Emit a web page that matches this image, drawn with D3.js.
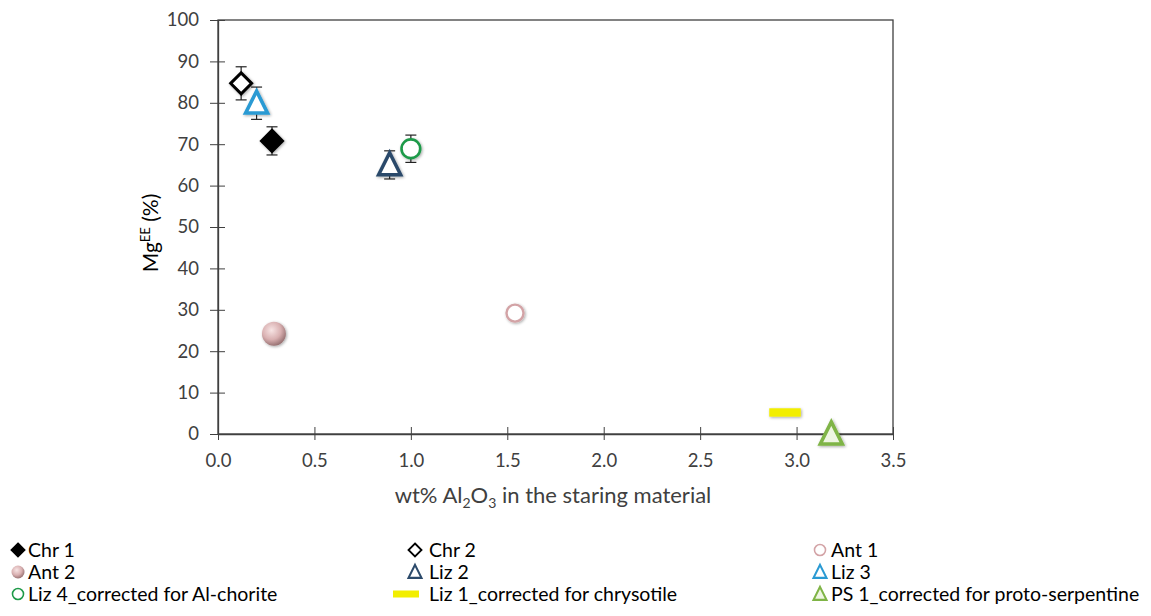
<!DOCTYPE html>
<html><head><meta charset="utf-8">
<script src="https://cdn.jsdelivr.net/npm/d3@7"></script>
<style>body{margin:0;background:#fff}svg{font-family:Lato,"Open Sans",sans-serif}</style>
</head><body>
<svg id="c" width="1151" height="616"></svg>
<script>
// Data
const seriesNames = ["Chr 1","Chr 2","Ant 1","Ant 2","Liz 2","Liz 3","Liz 4_corrected for Al-chorite","Liz 1_corrected for chrysotile","PS 1_corrected for proto-serpentine"];
const xValues = [0.28, 0.12, 1.54, 0.29, 0.89, 0.20, 1.00, 2.94, 3.18];
const yValues = [70.8, 84.7, 29.2, 24.2, 65.0, 79.9, 68.9, 5.2, 0.0];
const yErrors = [3.4, 4.0, 0, 0, 3.4, 3.9, 3.3, 0, 0];
const markerTypes = ["diamondFilled","diamondOpen","circleOpen","sphere","triangle","triangle","circleOpen","dash","triangleFilled"];
const markerColors = ["#000000","#000000","#d3a3a6","#c99a9c","#2c4a6b","#2a9ad3","#1e9a48","#f2ee00","#7fb446"];
const xTicks = [0,0.5,1,1.5,2,2.5,3,3.5];
const yTicks = [0,10,20,30,40,50,60,70,80,90,100];

const svg = d3.select("#c");
const L=218,T=20,R=893,B=434;
const x = d3.scaleLinear().domain([0,3.5]).range([L,R]);
const y = d3.scaleLinear().domain([0,100]).range([B,T]);

const defs = svg.append("defs");
const rg = defs.append("radialGradient").attr("id","sph").attr("cx","40%").attr("cy","35%").attr("r","65%");
rg.append("stop").attr("offset","0%").attr("stop-color","#f7e4e4");
rg.append("stop").attr("offset","60%").attr("stop-color","#d9b0b1");
rg.append("stop").attr("offset","100%").attr("stop-color","#9a7475");
const gf = defs.append("filter").attr("id","glow").attr("x","-50%").attr("y","-50%").attr("width","200%").attr("height","200%");
gf.append("feGaussianBlur").attr("in","SourceAlpha").attr("stdDeviation","1.5").attr("result","b");
gf.append("feOffset").attr("in","b").attr("dx",0.5).attr("dy",1).attr("result","o");
gf.append("feComponentTransfer").attr("in","o").attr("result","o2").append("feFuncA").attr("type","linear").attr("slope",0.35);
const fm = gf.append("feMerge"); fm.append("feMergeNode").attr("in","o2"); fm.append("feMergeNode").attr("in","SourceGraphic");

// frame
svg.append("rect").attr("x",L).attr("y",T).attr("width",R-L).attr("height",B-T).attr("fill","none").attr("stroke","#404040").attr("stroke-width",1.3);

// axes
const xa = svg.append("g").attr("transform",`translate(0,${B})`).call(d3.axisBottom(x).tickValues(xTicks).tickFormat(d3.format(".1f")).tickSizeInner(6).tickSizeOuter(0));
xa.attr("font-family",null).attr("font-size",null);
xa.selectAll(".tick line").attr("y1",-7).attr("y2",6).attr("stroke","#404040");
xa.select(".domain").attr("stroke","#404040").attr("stroke-width",1.3);
xa.selectAll("text").style("font-size","18.5px").attr("fill","#404040").attr("dy","0.35em").attr("y",27);
const ya = svg.append("g").attr("transform",`translate(${L},0)`).call(d3.axisLeft(y).tickValues(yTicks).tickSizeInner(7).tickSizeOuter(0));
ya.attr("font-family",null).attr("font-size",null);
ya.selectAll(".tick line").attr("x1",-8).attr("x2",7).attr("stroke","#404040");
ya.select(".domain").attr("stroke","#404040").attr("stroke-width",1.3);
ya.selectAll("text").style("font-size","18.5px").attr("fill","#404040").attr("x",-19);

// axis titles
const xt = svg.append("text").attr("x",553).attr("y",503).attr("text-anchor","middle").style("font-size","22px").attr("fill","#404040");
xt.append("tspan").text("wt% Al");
xt.append("tspan").style("font-size","14px").attr("dy",5).text("2");
xt.append("tspan").attr("dy",-5).text("O");
xt.append("tspan").style("font-size","14px").attr("dy",5).text("3");
xt.append("tspan").attr("dy",-5).text(" in the staring material");
const yt = svg.append("text").attr("transform",`translate(158,233) rotate(-90)`).attr("text-anchor","middle").style("font-size","21px").attr("fill","#000");
yt.append("tspan").text("Mg");
yt.append("tspan").style("font-size","13px").attr("dy",-8).text("EE");
yt.append("tspan").attr("dy",8).text(" (%)");

// marker drawing
function drawMarker(g, type, color, s){
  const h=s/2;
  if(type==="diamondFilled"||type==="diamondOpen"){
    g.append("path").attr("d",`M0,${-h}L${h},0L0,${h}L${-h},0Z`)
     .attr("fill",type==="diamondFilled"?color:"#fff").attr("stroke",color).attr("stroke-width",s*0.14).attr("stroke-linejoin","miter");
  } else if(type==="circleOpen"){
    g.append("circle").attr("r",h*0.85).attr("fill","#fff").attr("stroke",color).attr("stroke-width",s*0.12);
  } else if(type==="sphere"){
    g.append("circle").attr("r",h).attr("fill","url(#sph)");
  } else if(type==="triangle"||type==="triangleFilled"){
    const th=s*1.0;
    g.append("path").attr("d",`M0,${-th*0.55}L${h},${th*0.45}L${-h},${th*0.45}Z`)
     .attr("fill",type==="triangleFilled"?"#eef5e2":"#fff").attr("stroke",color).attr("stroke-width",s*0.16).attr("stroke-linejoin","miter");
  } else if(type==="dash"){
    g.append("rect").attr("x",-h*1.5).attr("y",-s*0.2).attr("width",s*1.5).attr("height",s*0.4).attr("fill",color);
  }
}

// error bars
const pts = seriesNames.map((n,i)=>({n,x:xValues[i],y:yValues[i],e:yErrors[i],t:markerTypes[i],c:markerColors[i]}));
const eb = svg.append("g");
pts.filter(d=>d.e>0).forEach(d=>{
  const cx=x(d.x);
  eb.append("line").attr("x1",cx).attr("x2",cx).attr("y1",y(d.y+d.e)).attr("y2",y(d.y-d.e)).attr("stroke","#222").attr("stroke-width",1.2);
  [d.y+d.e,d.y-d.e].forEach(v=>eb.append("line").attr("x1",cx-5.5).attr("x2",cx+5.5).attr("y1",y(v)).attr("y2",y(v)).attr("stroke","#222").attr("stroke-width",1.2));
});
const sizes = {diamondFilled:21,diamondOpen:21,circleOpen:22,sphere:24,triangle:22,triangleFilled:22,dash:21};
pts.forEach(d=>{
  const g = svg.append("g").attr("transform",`translate(${x(d.x)},${y(d.y)})`).attr("filter","url(#glow)");
  let s = sizes[d.t];
  if(d.n==="Ant 1") s=20;
  drawMarker(g,d.t,d.c,s);
});

// legend
const colX=[18,415,820], rowY=[550,572,594], txtOff=[10,14,11];
pts.forEach((d,i)=>{
  const col=i%3, cx=colX[col], cy=rowY[Math.floor(i/3)];
  const g=svg.append("g").attr("transform",`translate(${cx},${cy})`);
  if(d.t==="dash"){ g.append("rect").attr("x",-22).attr("y",-3.5).attr("width",26).attr("height",7).attr("fill",d.c); }
  else drawMarker(g,d.t,d.c,13);
  svg.append("text").attr("x",cx+txtOff[col]).attr("y",cy).attr("dy","0.35em").style("font-size","19.5px").attr("fill","#000").text(d.n);
});
</script>
</body></html>
